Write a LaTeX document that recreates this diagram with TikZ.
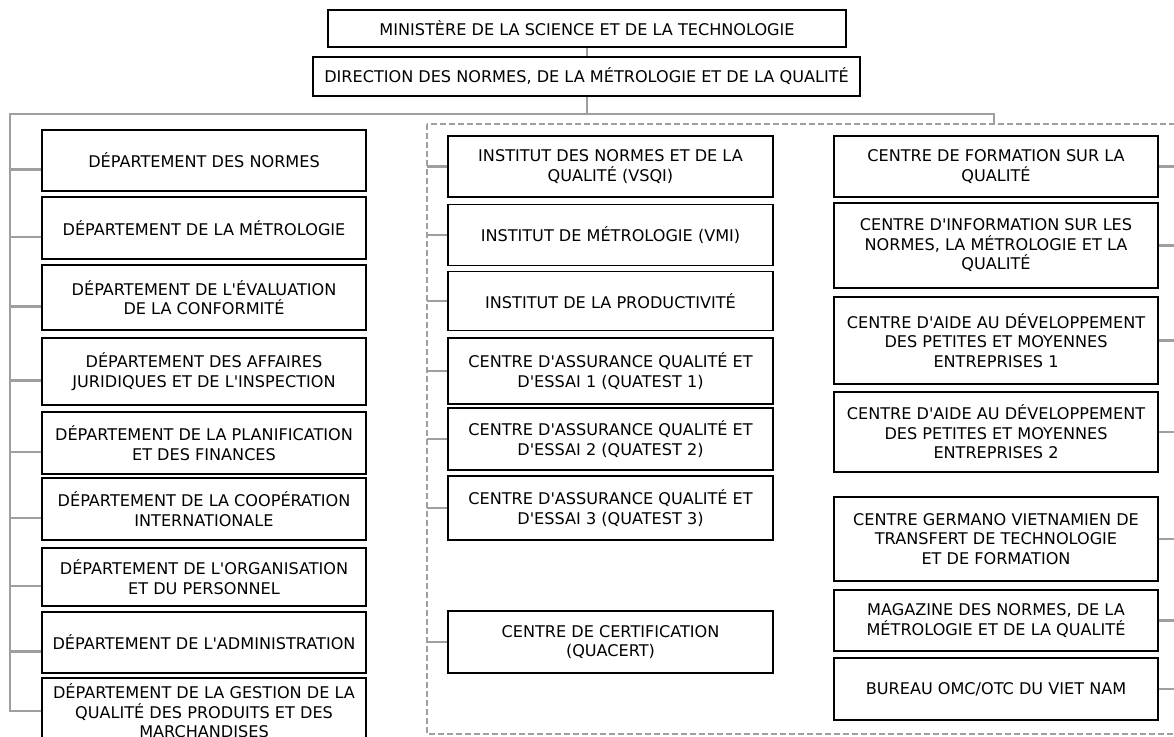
\documentclass[tikz,border=0pt]{standalone}
\usepackage{fontspec}
\setmainfont{DejaVu Sans}[Ligatures=TeXOff]
\begin{document}
\begin{tikzpicture}[x=1pt, y=-1pt,
    unit/.style={draw, line width=1.1pt, align=center, inner sep=2pt,
        font=\fontsize{16.1}{19.5}\selectfont},
    dept/.style={unit, minimum width=324pt},
    inst/.style={unit, minimum width=325pt},
    ctr/.style={unit, minimum width=324pt},
    link/.style={draw=gray!75, line width=2.8pt},
    frame/.style={draw=gray!75, line width=1.4pt, dash pattern=on 6pt off 3pt}]
    \useasboundingbox (0,0) rectangle (1174,736);
    \clip (0,0) rectangle (1174,736);

    % top of the chart
    \node[unit, minimum width=518pt, minimum height=37pt] (min) at (587,28.5) {MINISTÈRE DE LA SCIENCE ET DE LA TECHNOLOGIE};
    \node[unit, minimum width=547pt, minimum height=39pt] (dir) at (586.5,76.5) {DIRECTION DES NORMES, DE LA MÉTROLOGIE ET DE LA QUALITÉ};

    \coordinate (ltop) at (10,114);
    \coordinate (dtop) at (994,114);
    \coordinate (fnw) at (427,124);
    \coordinate (fse) at (1190,734);

    % dashed frame
    \draw[frame] (fnw) rectangle (fse);

    % left column
    \node[dept, minimum height=61pt] (L1) at (204,160.5) {DÉPARTEMENT DES NORMES};
    \node[dept, minimum height=62pt] (L2) at (204,228) {DÉPARTEMENT DE LA MÉTROLOGIE};
    \node[dept, minimum height=65pt] (L3) at (204,297.5) {DÉPARTEMENT DE L'ÉVALUATION\\DE LA CONFORMITÉ};
    \node[dept, minimum height=67pt] (L4) at (204,371.5) {DÉPARTEMENT DES AFFAIRES\\JURIDIQUES ET DE L'INSPECTION};
    \node[dept, minimum height=62pt] (L5) at (204,443) {DÉPARTEMENT DE LA PLANIFICATION\\ET DES FINANCES};
    \node[dept, minimum height=62pt] (L6) at (204,509) {DÉPARTEMENT DE LA COOPÉRATION\\INTERNATIONALE};
    \node[dept, minimum height=58pt] (L7) at (204,577) {DÉPARTEMENT DE L'ORGANISATION\\ET DU PERSONNEL};
    \node[dept, minimum height=61pt] (L8) at (204,642.5) {DÉPARTEMENT DE L'ADMINISTRATION};
    \node[dept, minimum height=66pt] (L9) at (204,711) {DÉPARTEMENT DE LA GESTION DE LA\\QUALITÉ DES PRODUITS ET DES\\MARCHANDISES};

    % middle column
    \node[inst, minimum height=61pt] (M1) at (610.5,166.5) {INSTITUT DES NORMES ET DE LA\\QUALITÉ (VSQI)};
    \node[inst, minimum height=61pt] (M2) at (610.5,235) {INSTITUT DE MÉTROLOGIE (VMI)};
    \node[inst, minimum height=59pt] (M3) at (610.5,301) {INSTITUT DE LA PRODUCTIVITÉ};
    \node[inst, minimum height=66pt] (M4) at (610.5,371) {CENTRE D'ASSURANCE QUALITÉ ET\\D'ESSAI 1 (QUATEST 1)};
    \node[inst, minimum height=62pt] (M5) at (610.5,439) {CENTRE D'ASSURANCE QUALITÉ ET\\D'ESSAI 2 (QUATEST 2)};
    \node[inst, minimum height=64pt] (M6) at (610.5,508) {CENTRE D'ASSURANCE QUALITÉ ET\\D'ESSAI 3 (QUATEST 3)};
    \node[inst, minimum height=62pt] (M7) at (610.5,642) {CENTRE DE CERTIFICATION\\(QUACERT)};

    % right column
    \node[ctr, minimum height=61pt] (R1) at (996,166.5) {CENTRE DE FORMATION SUR LA\\QUALITÉ};
    \node[ctr, minimum height=85pt] (R2) at (996,245.5) {CENTRE D'INFORMATION SUR LES\\NORMES, LA MÉTROLOGIE ET LA\\QUALITÉ};
    \node[ctr, minimum height=87pt] (R3) at (996,340.5) {CENTRE D'AIDE AU DÉVELOPPEMENT\\DES PETITES ET MOYENNES\\ENTREPRISES 1};
    \node[ctr, minimum height=80pt] (R4) at (996,432) {CENTRE D'AIDE AU DÉVELOPPEMENT\\DES PETITES ET MOYENNES\\ENTREPRISES 2};
    \node[ctr, minimum height=84pt] (R5) at (996,539) {CENTRE GERMANO VIETNAMIEN DE\\TRANSFERT DE TECHNOLOGIE\\ET DE FORMATION};
    \node[ctr, minimum height=61pt] (R6) at (996,620.5) {MAGAZINE DES NORMES, DE LA\\MÉTROLOGIE ET DE LA QUALITÉ};
    \node[ctr, minimum height=62pt] (R7) at (996,689) {BUREAU OMC/OTC DU VIET NAM};

    % connectors
    \draw[link] (min.south) -- (min.south |- dir.north);
    \draw[link] (dir.south -| min.south) -- (min.south |- ltop);
    \draw[link] (L9.west) -| (ltop) -- (dtop) -- (dtop |- fnw);
    \foreach \b in {L1,L2,L3,L4,L5,L6,L7,L8}
        \draw[link] ([yshift=-9pt]\b.west) -- ([yshift=-9pt]\b.west -| ltop);
    \foreach \b in {M1,M2,M3,M4,M5,M6,M7}
        \draw[link] (\b.west) -- (\b.west -| fnw);
    \foreach \b in {R1,R2,R3,R4,R5,R6,R7}
        \draw[link] (\b.east) -- (\b.east -| fse);
\end{tikzpicture}
\end{document}
